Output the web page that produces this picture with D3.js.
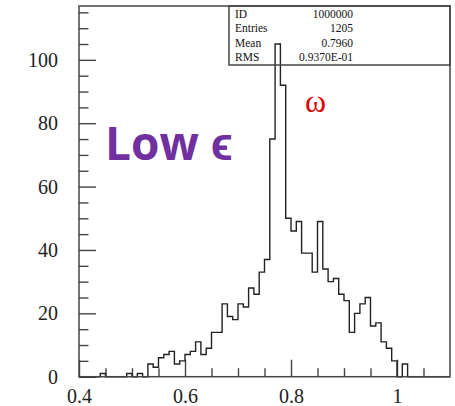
<!DOCTYPE html>
<html>
<head>
<meta charset="utf-8">
<script src="https://cdn.jsdelivr.net/npm/d3@7"></script>
<style>
  html, body { margin: 0; padding: 0; background: #fff; }
  svg { display: block; }
</style>
</head>
<body>
<svg id="chart" width="455" height="406"></svg>
<script>
// Histogram of the reconstructed mass, fixed bins of 0.01 starting at 0.40
const binStart = 0.40;
const binWidth = 0.01;
const counts = [
  0, 0, 0, 0, 1, 0, 0, 0, 0, 1,        // 0.40 - 0.49
  0, 1, 0, 4, 3, 6, 7, 8, 4, 5,        // 0.50 - 0.59
  7, 8, 11, 7, 9, 14, 14, 23, 19, 18,  // 0.60 - 0.69
  23, 22, 28, 26, 33, 37, 75, 105, 92, 50, // 0.70 - 0.79
  46, 49, 39, 39, 33, 49, 34, 30, 31, 26,  // 0.80 - 0.89
  24, 14, 20, 23, 25, 16, 17, 11, 9, 5,    // 0.90 - 0.99
  0, 4, 0, 0, 0, 0, 0, 0, 0, 0           // 1.00 - 1.09
];

const xTicksMajor = [0.4, 0.6, 0.8, 1.0];
const xTickLabels = ["0.4", "0.6", "0.8", "1"];
const yTicksMajor = [0, 20, 40, 60, 80, 100];
const yTickLabels = ["0", "20", "40", "60", "80", "100"];

const statLabels = ["ID", "Entries", "Mean", "RMS"];
const statValues = ["1000000", "1205", "0.7960", "0.9370E-01"];

const xDomain = [0.4, 1.1];
const yDomain = [0, 117];

const svg = d3.select("#chart");
const frame = { left: 79, right: 450, top: 6, bottom: 376.7 };

const x = d3.scaleLinear().domain(xDomain).range([frame.left, frame.right]);
const y = d3.scaleLinear().domain(yDomain).range([frame.bottom, frame.top]);

const axisColor = "#444";
const serif = "'Liberation Serif', 'DejaVu Serif', serif";

// minor tick values
const xMinor = d3.range(0, 15).map(i => +(0.4 + i * 0.05).toFixed(2)).filter(v => v > 0.4 && v < 1.1 && !xTicksMajor.some(m => Math.abs(m - v) < 1e-9));
const yMinor = d3.range(0, 24).map(i => i * 5).filter(v => v > 0 && v < 117 && v % 20 !== 0);

// x axis: ticks point into the plot
const gx = svg.append("g").attr("transform", `translate(0,${frame.bottom})`);
gx.call(d3.axisBottom(x).tickValues(xMinor).tickSize(-8.5).tickSizeOuter(0).tickFormat(""));
gx.select(".domain").remove();
const gx2 = svg.append("g").attr("transform", `translate(0,${frame.bottom})`);
gx2.call(d3.axisBottom(x).tickValues(xTicksMajor).tickSize(-17).tickSizeOuter(0).tickPadding(12)
  .tickFormat((d, i) => xTickLabels[i]));
gx2.select(".domain").remove();

// y axis
const gy = svg.append("g").attr("transform", `translate(${frame.left},0)`);
gy.call(d3.axisLeft(y).tickValues(yMinor).tickSize(-9.5).tickSizeOuter(0).tickFormat(""));
gy.select(".domain").remove();
const gy2 = svg.append("g").attr("transform", `translate(${frame.left},0)`);
gy2.call(d3.axisLeft(y).tickValues(yTicksMajor).tickSize(-17).tickSizeOuter(0).tickPadding(21)
  .tickFormat((d, i) => yTickLabels[i]));
gy2.select(".domain").remove();

svg.selectAll(".tick line").attr("stroke", axisColor).attr("stroke-width", 1.4);
svg.selectAll(".tick text")
  .attr("font-family", serif)
  .attr("font-size", 20)
  .attr("fill", "#222");

// histogram outline as a step path
const pts = [[binStart, 0]];
counts.forEach((c, i) => {
  const lo = binStart + i * binWidth;
  pts.push([lo, c], [lo + binWidth, c]);
});
pts.push([binStart + counts.length * binWidth, 0]);

svg.append("path")
  .datum(pts)
  .attr("fill", "none")
  .attr("stroke", "#222")
  .attr("stroke-width", 1.4)
  .attr("d", d3.line().x(d => x(d[0])).y(d => y(d[1])));

// plot frame
svg.append("rect")
  .attr("x", frame.left).attr("y", frame.top)
  .attr("width", frame.right - frame.left)
  .attr("height", frame.bottom - frame.top)
  .attr("fill", "none")
  .attr("stroke", axisColor)
  .attr("stroke-width", 1.5);

// statistics box
const stats = svg.append("g");
stats.append("rect")
  .attr("x", 229).attr("y", frame.top)
  .attr("width", frame.right - 229).attr("height", 59)
  .attr("fill", "none")
  .attr("stroke", axisColor)
  .attr("stroke-width", 1.5);
statLabels.forEach((lab, i) => {
  const by = 17.5 + i * 14.6;
  stats.append("text").attr("x", 235).attr("y", by)
    .attr("font-family", serif).attr("font-size", 11.5).attr("fill", "#111")
    .text(lab);
  stats.append("text").attr("x", 353).attr("y", by)
    .attr("text-anchor", "end")
    .attr("font-family", serif).attr("font-size", 11.5).attr("fill", "#111")
    .text(statValues[i]);
});

// annotations
svg.append("text")
  .attr("x", 105).attr("y", 160)
  .attr("font-family", "'Open Sans', 'Liberation Sans', sans-serif")
  .attr("font-weight", "bold")
  .attr("font-size", 46)
  .attr("fill", "#7030a0")
  .text("Low \u03f5");

svg.append("text")
  .attr("x", 305).attr("y", 112)
  .attr("font-family", serif)
  .attr("font-size", 32)
  .attr("fill", "#e00000")
  .text("\u03c9");
</script>
</body>
</html>
